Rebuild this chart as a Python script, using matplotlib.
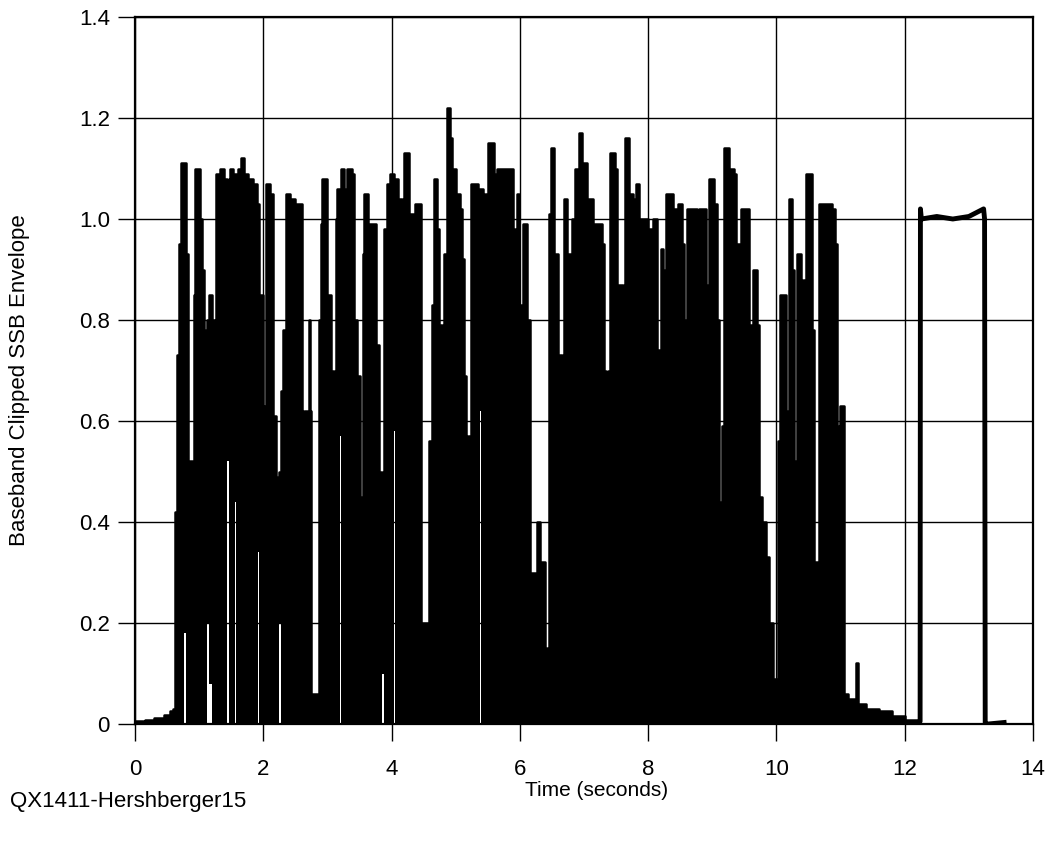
import matplotlib
matplotlib.use("Agg")
import matplotlib.pyplot as plt

# Clipped SSB envelope: breakpoints (time, top of the trace, bottom of the trace)
burst_t = [0.00, 0.15, 0.30, 0.45, 0.55, 0.60, 0.624, 0.65, 0.68, 0.71, 0.77, 0.795, 0.83, 0.92, 0.94,
           1.01, 1.04, 1.07, 1.12, 1.16, 1.20, 1.25, 1.27, 1.33, 1.38, 1.44, 1.46, 1.48, 1.53, 1.56,
           1.58, 1.60, 1.65, 1.70, 1.76, 1.845, 1.897, 1.92, 1.94, 1.99, 2.01, 2.04, 2.10, 2.157, 2.20,
           2.25, 2.27, 2.31, 2.35, 2.42, 2.50, 2.60, 2.635, 2.71, 2.725, 2.74, 2.87, 2.895, 2.92, 2.99,
           3.05, 3.10, 3.135, 3.155, 3.19, 3.205, 3.26, 3.30, 3.38, 3.415, 3.456, 3.50, 3.55, 3.57, 3.63,
           3.76, 3.81, 3.846, 3.88, 3.924, 3.976, 4.04, 4.055, 4.106, 4.158, 4.194, 4.277, 4.366, 4.454, 4.589,
           4.63, 4.662, 4.714, 4.735, 4.78, 4.818, 4.86, 4.91, 4.937, 5.005, 5.067, 5.10, 5.13, 5.16, 5.197,
           5.233, 5.353, 5.379, 5.395, 5.42, 5.457, 5.50, 5.597, 5.65, 5.785, 5.888, 5.925, 5.95, 5.992, 6.044,
           6.117, 6.16, 6.26, 6.31, 6.39, 6.43, 6.45, 6.486, 6.54, 6.60, 6.65, 6.69, 6.74, 6.808, 6.86,
           6.928, 6.97, 7.05, 7.14, 7.276, 7.318, 7.344, 7.38, 7.40, 7.484, 7.51, 7.61, 7.645, 7.697, 7.77,
           7.81, 7.863, 8.004, 8.07, 8.144, 8.196, 8.238, 8.28, 8.39, 8.47, 8.523, 8.56, 8.61, 8.768, 8.80,
           8.903, 8.944, 9.03, 9.07, 9.11, 9.152, 9.183, 9.267, 9.34, 9.37, 9.443, 9.578, 9.64, 9.693, 9.734,
           9.77, 9.838, 9.89, 9.942, 10.03, 10.056, 10.15, 10.20, 10.24, 10.275, 10.316, 10.379, 10.42, 10.462, 10.55,
           10.587, 10.67, 10.862, 10.914, 10.94, 10.97, 10.99, 11.055, 11.12, 11.24, 11.27, 11.40, 11.60, 11.80, 12.00,
           12.20, 12.24]
burst_hi = [0.005, 0.008, 0.012, 0.018, 0.025, 0.030, 0.42, 0.73, 0.95, 1.11, 1.11, 0.93, 0.52, 0.85, 1.10,
            1.00, 0.90, 0.78, 0.80, 0.85, 0.80, 0.02, 1.09, 1.10, 1.08, 1.06, 1.08, 1.10, 1.09, 1.09,
            1.09, 1.10, 1.12, 1.09, 1.08, 1.07, 1.03, 1.03, 0.85, 0.63, 0.60, 1.07, 1.05, 0.61, 0.49,
            0.50, 0.66, 0.78, 1.05, 1.04, 1.03, 0.57, 0.62, 0.80, 0.62, 0.06, 0.80, 0.99, 1.08, 0.85,
            0.70, 0.55, 1.00, 1.06, 1.06, 1.10, 1.06, 1.10, 1.09, 0.80, 0.69, 0.45, 0.93, 1.05, 0.99,
            0.75, 0.50, 0.40, 0.98, 1.07, 1.09, 1.08, 1.08, 1.04, 0.93, 1.13, 1.01, 1.03, 0.20, 0.56,
            0.83, 1.08, 0.98, 0.79, 0.44, 0.93, 1.22, 1.16, 1.10, 1.05, 1.02, 0.92, 0.69, 0.51, 0.57,
            1.07, 1.06, 1.06, 1.06, 0.95, 1.05, 1.15, 1.09, 1.10, 1.10, 0.98, 0.83, 1.05, 0.83, 0.99,
            0.80, 0.30, 0.40, 0.32, 0.15, 0.10, 1.01, 1.14, 0.93, 0.73, 0.55, 1.04, 0.93, 1.00, 1.10,
            1.17, 1.11, 1.04, 0.99, 0.95, 0.70, 0.17, 0.70, 1.13, 1.10, 0.87, 0.62, 1.16, 1.05, 1.04,
            1.07, 1.00, 0.98, 1.00, 0.74, 0.94, 0.90, 1.05, 1.02, 1.03, 0.95, 0.80, 1.02, 0.45, 1.02,
            0.87, 1.08, 1.03, 0.80, 0.44, 0.59, 1.14, 1.10, 1.09, 0.95, 1.02, 0.79, 0.90, 0.79, 0.45,
            0.40, 0.33, 0.20, 0.09, 0.56, 0.85, 0.62, 1.04, 0.90, 0.52, 0.93, 0.30, 0.88, 1.09, 0.78,
            0.32, 1.03, 1.02, 0.95, 0.59, 0.22, 0.63, 0.06, 0.05, 0.12, 0.04, 0.03, 0.025, 0.015, 0.008,
            0.003, 0.003]
burst_lo = [0.0] * len(burst_t)
# spots where the trace leaves a white gap above the baseline
gap_t = [0.77, 1.12, 1.16, 1.44, 1.56, 1.92, 2.25, 3.19, 3.846, 4.04, 5.379]
gap_lo = [0.18, 0.20, 0.08, 0.52, 0.44, 0.34, 0.20, 0.57, 0.10, 0.58, 0.62]
for gt, gl in zip(gap_t, gap_lo):
    burst_lo[burst_t.index(gt)] = gl

# calibration tone after the speech burst
pulse_t = [12.20, 12.24, 12.245, 12.26, 12.5, 12.75, 13.0, 13.23, 13.245, 13.255, 13.30, 13.55]
pulse_v = [0.003, 0.005, 1.02, 1.00, 1.005, 1.00, 1.005, 1.02, 1.00, -0.008, 0.0, 0.003]

y_ticks = [0, 0.2, 0.4, 0.6, 0.8, 1.0, 1.2, 1.4]
y_labels = ["0", "0.2", "0.4", "0.6", "0.8", "1.0", "1.2", "1.4"]
x_ticks = [0, 2, 4, 6, 8, 10, 12, 14]

plt.rcParams['font.family'] = ["Liberation Sans", "DejaVu Sans"]

fig = plt.figure(figsize=(10.49, 8.44), dpi=100)
ax = fig.add_axes([135 / 1049, 1 - 724 / 844, (1033 - 135) / 1049, (724 - 17) / 844])

ax.fill_between(burst_t, burst_lo, burst_hi, step='post', color='black', linewidth=0)
ax.step(burst_t, burst_hi, where='post', color='black', linewidth=1.8)
ax.plot(pulse_t, pulse_v, color='black', linewidth=3.5)

ax.set_xlim(0, 14)
ax.set_ylim(0, 1.4)
ax.set_xticks(x_ticks)
ax.set_yticks(y_ticks)
ax.set_yticklabels(y_labels)
ax.grid(True, color='black', linewidth=1.0)
ax.set_axisbelow(True)
for s in ax.spines.values():
    s.set_linewidth(1.6)
ax.tick_params(axis='both', direction='out', length=12, width=1.0, labelsize=16, color='black')
ax.tick_params(axis='x', pad=13)
ax.tick_params(axis='y', pad=6)

fig.text(597 / 1049, 1 - 790 / 844, "Time (seconds)", ha='center', va='center', fontsize=15)
fig.text(20 / 1049, 1 - 380 / 844, "Baseband Clipped SSB Envelope", ha='center', va='center',
         rotation=90, fontsize=16)
fig.text(10 / 1049, 1 - 802 / 844, "QX1411-Hershberger15", ha='left', va='center', fontsize=16)

fig.savefig("out.png", dpi=100)
